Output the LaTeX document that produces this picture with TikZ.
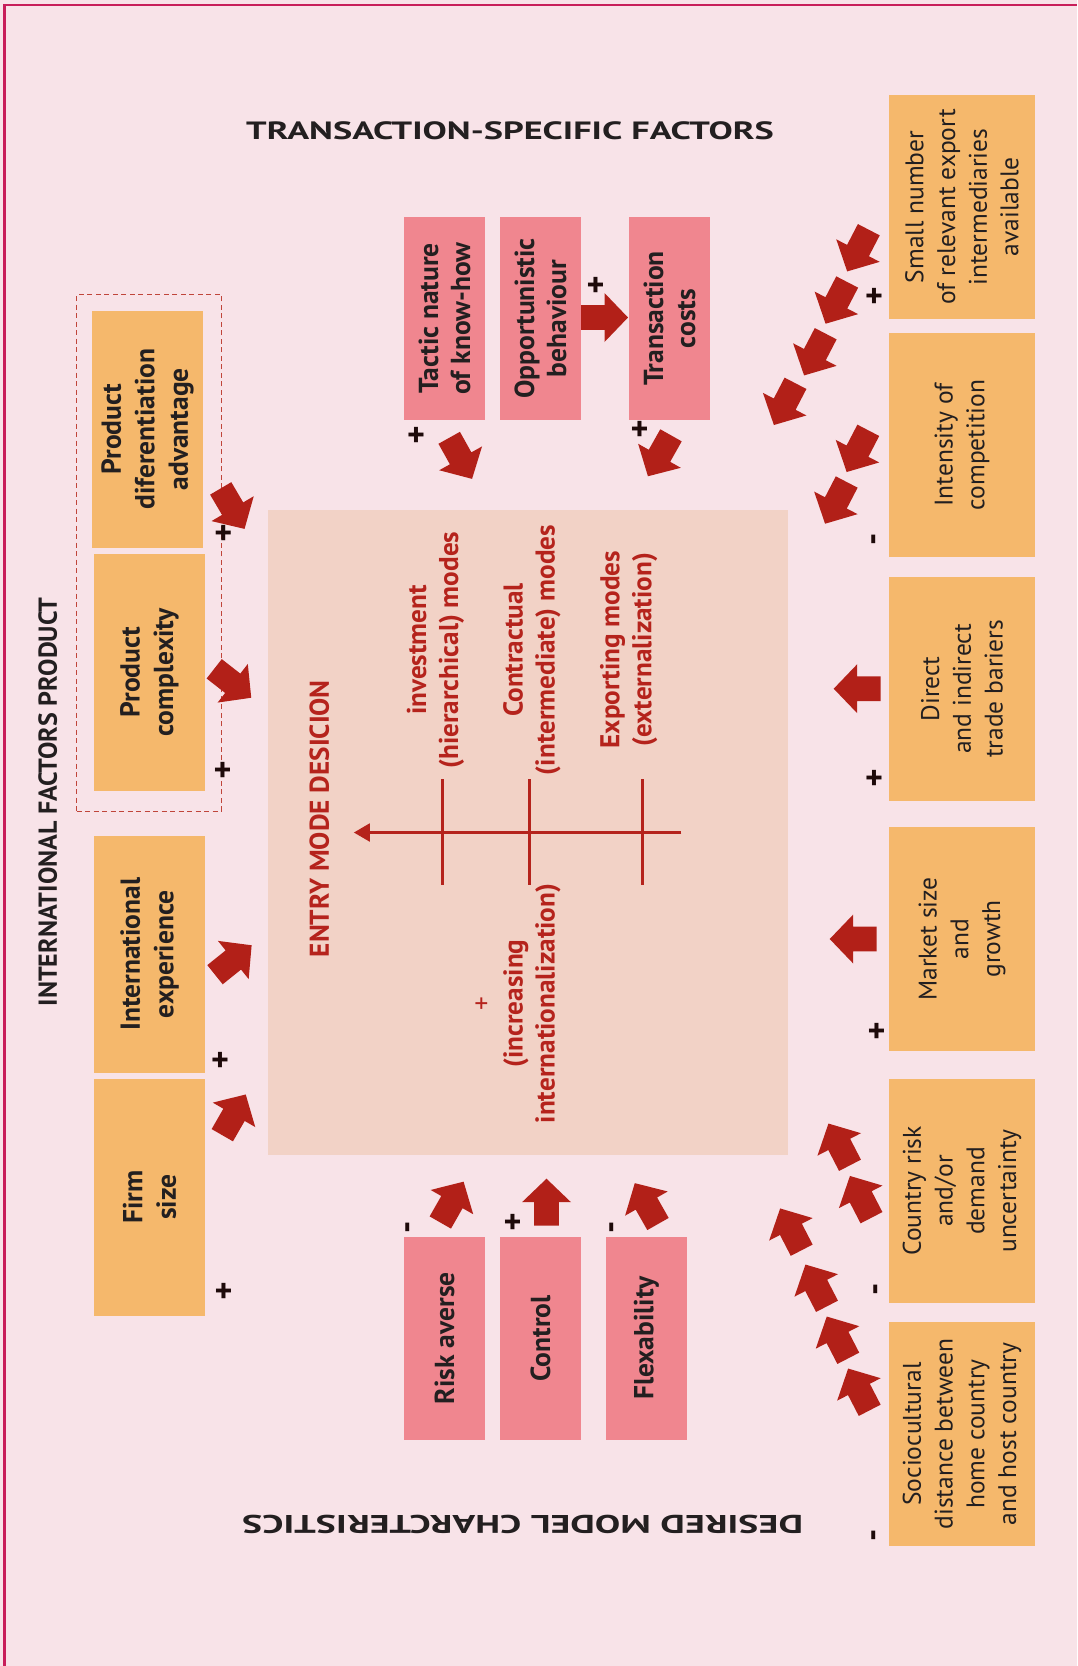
\documentclass[tikz,border=0pt]{standalone}
\usepackage{fontspec}
\setmainfont{PT Sans}
\newfontfamily\headfont[FakeStretch=1.45]{PT Sans}
\newfontfamily\footfont[FakeStretch=1.49]{PT Sans}
\usetikzlibrary{arrows.meta}

\definecolor{bgpink}{HTML}{F8E3E8}
\definecolor{framered}{HTML}{C81E5A}
\definecolor{salmon}{HTML}{F0868F}
\definecolor{orangebox}{HTML}{F5B86C}
\definecolor{corebox}{HTML}{F2D2C6}
\definecolor{arrowred}{HTML}{B22018}
\definecolor{modered}{HTML}{B5231C}
\definecolor{inkdark}{HTML}{231F20}
\definecolor{signdark}{HTML}{1E0A0A}
\definecolor{dashred}{HTML}{C0453A}

\tikzset{
  pics/fatarrow/.style={code={
    \fill[arrowred] (0pt,-12.3pt) -- (23.5pt,-12.3pt) -- (23.5pt,-24.5pt)
      -- (47pt,0pt) -- (23.5pt,24.5pt) -- (23.5pt,12.3pt) -- (0pt,12.3pt) -- cycle;
  }}
}

\begin{document}
\begin{tikzpicture}[x=1pt,y=-1pt,
  every node/.style={inner sep=0pt,outer sep=0pt},
  factor/.style={rotate=90,minimum width=223.7pt,minimum height=146pt,
    fill=orangebox,text=inkdark,align=center,
    font=\fontsize{25.5}{31.7}\selectfont},
  internal/.style={rotate=90,minimum width=236.7pt,minimum height=111pt,
    fill=orangebox,text=inkdark,align=center,
    font=\fontsize{27.5}{33.5}\selectfont\bfseries},
  driver/.style={rotate=90,minimum width=203pt,minimum height=81pt,
    fill=salmon,text=inkdark,align=center,
    font=\fontsize{27.5}{32}\selectfont\bfseries},
  modes/.style={rotate=90,text=modered,align=center,
    font=\fontsize{27.2}{32}\selectfont\bfseries},
  plus/.style={text=signdark,font=\fontsize{34}{34}\selectfont\bfseries},
  minus/.style={plus,rotate=90},
  axisline/.style={draw=modered,line width=3.2pt}
]

% page and frame
\useasboundingbox (0,0) rectangle (1077,1666);
\fill[bgpink] (0,0) rectangle (1077,1666);
\draw[framered,line width=2.4pt] (4.3,1666) -- (4.3,5) -- (1077,5);

% headings
\node[text=inkdark,font=\headfont\fontsize{25}{25}\selectfont\bfseries]
  (tsf) at (510,131) {TRANSACTION-SPECIFIC FACTORS};
\node[text=inkdark,font=\footfont\fontsize{25.5}{25.5}\selectfont\bfseries,rotate=180]
  (dmc) at (522.6,1524) {DESIRED MODEL CHARCTERISTICS};
\node[text=inkdark,font=\fontsize{26}{26}\selectfont\bfseries,rotate=90]
  (ifp) at (47.8,802) {INTERNATIONAL FACTORS PRODUCT};

% central decision panel
\node[fill=corebox,minimum width=520.4pt,minimum height=644.7pt] (core) at (527.8,832.2) {};
\node[modes] (emd) at (319.3,818.6) {ENTRY MODE DESICION};
\node[modes] (inv) at (435.4,650) {investment\\(hierarchical) modes};
\node[modes] (con) at (532,650) {Contractual\\(intermediate) modes};
\node[modes] (exm) at (628.8,649.6) {Exporting modes\\(externalization)};
\node[modes] (inc) at (518,1003.5) {{\mdseries +}\\(increasing\\internationalization)};

\coordinate (axisR) at (681.4,832.5);
\coordinate (axisL) at (353.8,832.5);
\draw[axisline,-{Triangle[length=16pt,width=17.6pt]}] (axisR) -- (axisL);
\draw[axisline,line width=3pt] (442.8,779) -- (442.8,885.1);
\draw[axisline,line width=3pt] (529.3,779) -- (529.3,885.1);
\draw[axisline,line width=3pt] (642.8,779) -- (642.8,885.1);

% transaction-specific drivers
\node[driver] (tac) at (444.5,318.5) {Tactic nature\\of know-how};
\node[driver] (opp) at (540.5,318.5) {Opportunistic\\behaviour};
\node[driver] (trc) at (669.5,318.5) {Transaction\\costs};

% desired mode characteristics
\node[driver] (ris) at (444.5,1338.3) {Risk averse};
\node[driver] (ctl) at (540.5,1338.3) {Control};
\node[driver] (flx) at (646.3,1338.3) {Flexability};

% internal factors
\node[draw=dashred,line width=1.3pt,dash pattern=on 5pt off 3.5pt,
  minimum width=144.6pt,minimum height=516.8pt] (grp) at (149,552.9) {};
\node[internal] (pda) at (147.5,429.3) {Product\\diferentiation\\advantage};
\node[internal] (pcx) at (149.5,672.3) {Product\\complexity};
\node[internal] (iex) at (149.5,954.3) {International\\experience};
\node[internal] (fsz) at (149.5,1197.3) {Firm\\size};

% external factors
\node[factor] (sno) at (962,206.9) {Small number\\of relevant export\\intermediaries\\available};
\node[factor] (ico) at (962,444.9) {Intensity of\\competition};
\node[factor] (dtb) at (962,688.9) {Direct\\and indirect\\trade bariers};
\node[factor] (msg) at (962,938.9) {Market size\\and\\growth};
\node[factor] (cru) at (962,1190.9) {Country risk\\and/or\\demand\\uncertainty};
\node[factor] (scd) at (962,1434) {Sociocultural\\distance between\\home country\\and host country};

% influence arrows
\pic[rotate=-60.9] at (449.2,437.8) {fatarrow};
\pic[rotate=-119.4] at (671,435.3) {fatarrow};
\pic[rotate=0] at (581,317.5) {fatarrow};
\foreach \p in {(868.8,229.7),(847.2,282),(825.7,333.7),(795.5,383.3),(868.3,430.3),(846.7,482)}
  \pic[rotate=-117.4] at \p {fatarrow};
\pic[rotate=180] at (880.7,688.7) {fatarrow};
\pic[rotate=180] at (876.7,939) {fatarrow};
\foreach \p in {(850,1165.3),(871.5,1217.7),(801.7,1250.2),(827,1306.3),(848.3,1358.3),(869.7,1410.3)}
  \pic[rotate=117.3] at \p {fatarrow};
\pic[rotate=60.3] at (440.3,1222.5) {fatarrow};
\pic[rotate=90] at (546.5,1225.7) {fatarrow};
\pic[rotate=119.6] at (658,1224) {fatarrow};
\pic[rotate=-59.5] at (220.7,488.4) {fatarrow};
\pic[rotate=-38] at (214.2,668.8) {fatarrow};
\pic[rotate=38.8] at (215,974.7) {fatarrow};
\pic[rotate=60.1] at (222.3,1135.2) {fatarrow};

% signs of the effects
\node[plus] (s1) at (595.7,286.7) {+};
\node[plus] (s2) at (416,436.7) {+};
\node[plus] (s3) at (639.7,431) {+};
\node[plus] (s4) at (874,298.3) {+};
\node[minus] (s5) at (877.7,539.3) {-};
\node[plus] (s6) at (874,780) {+};
\node[plus] (s7) at (876.7,1033.3) {+};
\node[minus] (s8) at (880,1289.3) {-};
\node[minus] (s9) at (878,1535) {-};
\node[plus] (s10) at (223.3,534.8) {+};
\node[plus] (s11) at (222.7,772.4) {+};
\node[plus] (s12) at (220,1061.7) {+};
\node[plus] (s13) at (223.7,1292.7) {+};
\node[minus] (s14) at (411.7,1227.3) {-};
\node[plus] (s15) at (512.7,1224) {+};
\node[minus] (s16) at (615.7,1227.3) {-};

\end{tikzpicture}
\end{document}
